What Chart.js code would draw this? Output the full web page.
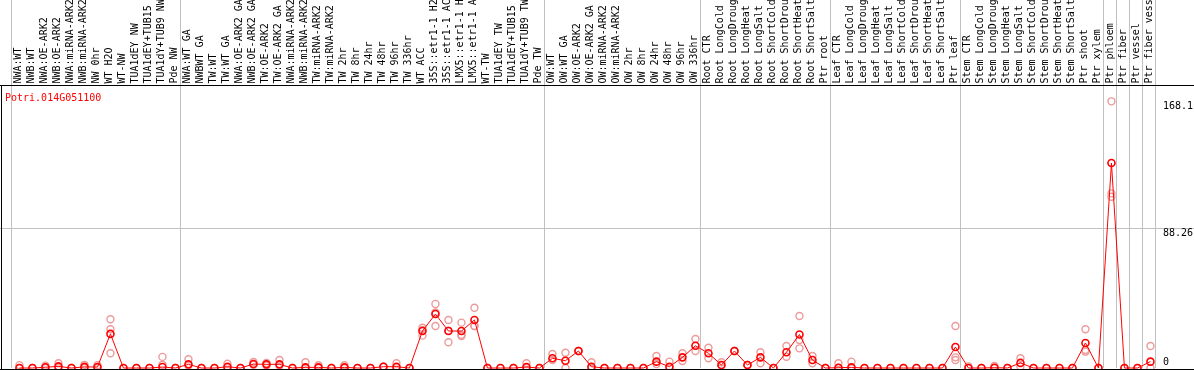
<!DOCTYPE html>
<html>
<head>
<meta charset="utf-8">
<script src="https://cdn.jsdelivr.net/npm/chart.js@4"></script>
<style>
  html, body { margin: 0; padding: 0; background: #fff; }
  canvas { display: block; }
</style>
</head>
<body>
<canvas id="chart" width="1194" height="370"></canvas>
<script>
const geneId = 'Potri.014G051100';

const categories = [
  'NWA:WT', 'NWB:WT', 'NWA:OE-ARK2', 'NWB:OE-ARK2', 'NWA:miRNA-ARK2', 'NWB:miRNA-ARK2',
  'NW 0hr', 'WT H2O', 'WT-NW', 'TUA1dEY NW', 'TUA1dEY+TUB15 NW', 'TUA1dY+TUB9 NW', 'Pde NW',
  'NWA:WT GA', 'NWBWT GA', 'TW:WT', 'TW:WT GA', 'NWA:OE-ARK2 GA', 'NWB:OE-ARK2 GA',
  'TW:OE-ARK2', 'TW:OE-ARK2 GA', 'NWA:miRNA-ARK2 GA', 'NWB:miRNA-ARK2 GA', 'TW:miRNA-ARK2',
  'TW:miRNA-ARK2 GA', 'TW 2hr', 'TW 8hr', 'TW 24hr', 'TW 48hr', 'TW 96hr', 'TW 336hr',
  'WT ACC', '35S::etr1-1 H2O', '35S::etr1-1 ACC', 'LMX5::etr1-1 H2O', 'LMX5::etr1-1 ACC',
  'WT-TW', 'TUA1dEY TW', 'TUA1dEY+TUB15 TW', 'TUA1dY+TUB9 TW', 'Pde TW',
  'OW:WT', 'OW:WT GA', 'OW:OE-ARK2', 'OW:OE-ARK2 GA', 'OW:miRNA-ARK2', 'OW:miRNA-ARK2 GA',
  'OW 2hr', 'OW 8hr', 'OW 24hr', 'OW 48hr', 'OW 96hr', 'OW 336hr',
  'Root CTR', 'Root LongCold', 'Root LongDrought', 'Root LongHeat', 'Root LongSalt',
  'Root ShortCold', 'Root ShortDrought', 'Root ShortHeat', 'Root ShortSalt', 'Ptr root',
  'Leaf CTR', 'Leaf LongCold', 'Leaf LongDrought', 'Leaf LongHeat', 'Leaf LongSalt',
  'Leaf ShortCold', 'Leaf ShortDrought', 'Leaf ShortHeat', 'Leaf ShortSalt', 'Ptr leaf',
  'Stem CTR', 'Stem LongCold', 'Stem LongDrought', 'Stem LongHeat', 'Stem LongSalt',
  'Stem ShortCold', 'Stem ShortDrought', 'Stem ShortHeat', 'Stem ShortSalt', 'Ptr shoot',
  'Ptr xylem', 'Ptr phloem', 'Ptr fiber', 'Ptr vessel', 'Ptr fiber vessel'
];

const means = [
  0, 0, 0.5, 1, 0, 0.7, 0.6, 21.5, 0, 0, 0, 0.6, 0,
  2.3, 0, 0, 0.8, 0, 2.5, 2.3, 2.3, 0, 0.4, 0.4, 0, 0.4, 0, 0, 0.8, 0.8, 0,
  23.3, 34, 23.3, 23.3, 30.3, 0, 0, 0, 0.6, 0,
  6.1, 4.6, 10.7, 0.8, 0, 0, 0, 0, 4, 0.8, 6.7, 14,
  9.3, 1.9, 10.7, 1.9, 6.7, 0, 9.9, 21.1, 5, 0,
  0.2, 0.4, 0, 0, 0, 0, 0, 0, 0, 13.2,
  0, 0, 0.2, 0, 3.2, 0, 0, 0, 0, 15.8,
  0, 129.2, 0, 0, 4
];

const replicates = [
  [1.8, 0], [0], [1.5, 0], [3, 0], [0], [2, 0], [1.8, 0], [30.7, 24.4, 9.3], [0], [0], [0], [7, 2], [0],
  [5.5, 1.5], [0], [0], [2.7, 0], [0], [3.8, 2], [3.2, 1.5], [5, 1.5], [0], [3.6, 0], [1.7, 0], [0],
  [1.7, 0], [0], [0], [0.8, 0.8], [3, 0], [0],
  [25.4, 20.4, 24], [40.4, 26.5, 35], [30.3, 16.2, 23.5], [28.6, 20.2, 21], [38, 26.5, 26.5],
  [0], [0], [0], [3, 0], [0],
  [8.8, 5], [9.6, 0], [10.7, 10.7], [3.6, 0], [0], [0], [0], [0], [7.6, 2.5], [4, 0], [9.3, 4.4], [18.3, 10.7],
  [12.8, 6.1], [3.6, 1.5], [10.7, 10.7], [1.9, 1.9], [9.9, 3], [0], [13.9, 7.1], [32.8, 17.7, 12.4], [7.6, 3], [0],
  [3, 0], [4, 0], [0], [0], [0], [0], [0], [0], [0], [26.5, 6.7, 5],
  [1, 0], [0], [1.3, 0], [0], [6.1, 1], [0], [0], [0], [0], [24.4, 11.3, 10.3],
  [0], [168.1, 110.1, 108], [0], [0], [13.9, 0]
];

// group separators, in category units
const groupBreaks = [0, 13, 41, 53, 63, 73, 84, 85, 86, 87, 88];
const yTicks = [0, 88.26, 168.1];
const yMax = 178.4;
const xOffset = 0.65;

const meanPoints = means.map((v, i) => ({ x: i + xOffset, y: v }));
const repPoints = replicates.flatMap((reps, i) => reps.map(v => ({ x: i + xOffset, y: v })));

const FONT = '10px "DejaVu Sans Mono"';

const decorations = {
  id: 'decorations',
  beforeDatasetsDraw(chart) {
    const ctx = chart.ctx;
    const y = chart.scales.y;
    ctx.save();
    ctx.fillStyle = '#c0c0c0';
    yTicks.slice(1, -1).forEach(v => {
      ctx.fillRect(0, Math.round(y.getPixelForValue(v)), chart.width, 1);
    });
    ctx.restore();
  },
  afterDraw(chart) {
    const ctx = chart.ctx;
    const x = chart.scales.x;
    const y = chart.scales.y;
    const area = chart.chartArea;
    ctx.save();
    ctx.fillStyle = '#000';
    ctx.fillRect(0, area.top, chart.width, 1);
    ctx.fillRect(0, area.bottom + 1, chart.width, 1);
    ctx.fillRect(1, area.top, 1, area.bottom + 2 - area.top);

    ctx.font = FONT;
    ctx.textAlign = 'left';
    ctx.textBaseline = 'middle';
    categories.forEach((c, i) => {
      ctx.save();
      ctx.translate(x.getPixelForValue(i + xOffset) - 1, area.top - 1.5);
      ctx.rotate(-Math.PI / 2);
      ctx.fillText(c, 0, 0);
      ctx.restore();
    });

    yTicks.forEach(v => {
      const py = Math.min(y.getPixelForValue(v) + 5, area.bottom - 6);
      ctx.fillText(String(v), area.right + 8, py);
    });

    ctx.fillStyle = '#ff0000';
    ctx.fillText(geneId, 5, area.top + 13);
    ctx.restore();
  }
};

new Chart(document.getElementById('chart'), {
  type: 'line',
  data: {
    datasets: [{
      label: 'mean',
      data: meanPoints,
      borderColor: '#ff0000',
      borderWidth: 1,
      pointRadius: 3.5,
      pointBorderWidth: 1.6,
      pointBorderColor: '#ff0000',
      pointBackgroundColor: 'transparent',
      tension: 0,
      clip: false
    }, {
      label: 'replicates',
      data: repPoints,
      showLine: false,
      pointRadius: 3.5,
      pointBorderWidth: 1.4,
      pointBorderColor: '#ec9a9a',
      pointBackgroundColor: 'transparent',
      clip: false
    }]
  },
  options: {
    responsive: false,
    animation: false,
    devicePixelRatio: 1,
    layout: { autoPadding: false, padding: { left: 11, right: 0, top: 0, bottom: 2 } },
    plugins: { legend: { display: false }, tooltip: { enabled: false } },
    scales: {
      x: {
        type: 'linear',
        position: 'top',
        min: 0,
        max: categories.length,
        afterBuildTicks: s => { s.ticks = groupBreaks.map(v => ({ value: v })); },
        afterFit: s => { s.height = 85; },
        ticks: { display: false },
        grid: { color: '#c0c0c0', lineWidth: 1, drawTicks: true, tickLength: 85 },
        border: { display: false }
      },
      y: {
        position: 'right',
        min: 0,
        max: yMax,
        afterBuildTicks: s => { s.ticks = yTicks.map(v => ({ value: v })); },
        afterFit: s => { s.width = 39; },
        ticks: { display: false },
        grid: { display: false },
        border: { display: false }
      }
    }
  },
  plugins: [decorations]
});
</script>
</body>
</html>
